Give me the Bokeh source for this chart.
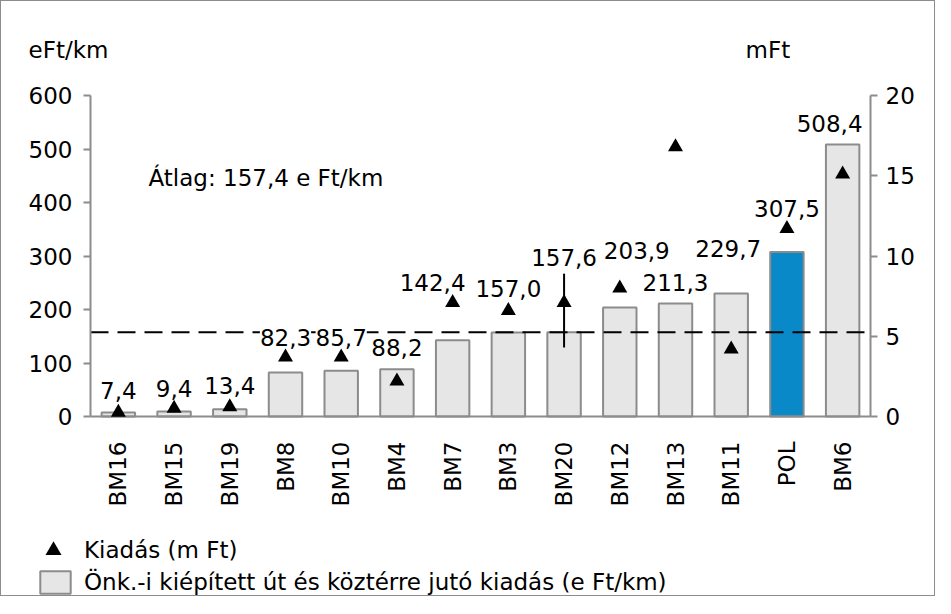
import math
from bokeh.plotting import figure
from bokeh.models import (ColumnDataSource, FactorRange, Range1d, LinearAxis, FixedTicker,
                          LabelSet, Label, Legend, LegendItem)
from bokeh.core.properties import value
from bokeh.embed import file_html
from bokeh.resources import INLINE

# ---------------- data ----------------
categories = ["BM16", "BM15", "BM19", "BM8", "BM10", "BM4", "BM7", "BM3",
              "BM20", "BM12", "BM13", "BM11", "POL", "BM6"]
cost_per_km = [7.4, 9.4, 13.4, 82.3, 85.7, 88.2, 142.4, 157.0,
               157.6, 203.9, 211.3, 229.7, 307.5, 508.4]          # e Ft/km (left axis)
spending_mft = [0.25, 0.5, 0.6, 3.7, 3.7, 2.2, 7.1, 6.6,
                7.1, 8.0, 16.8, 4.2, 11.7, 15.1]                    # m Ft (right axis)
average_cost = 157.4
range_cat = ["BM20"]
range_low = [4.3]
range_high = [8.9]
highlight = "POL"
left_ticks = [0, 100, 200, 300, 400, 500, 600]
right_ticks = [0, 5, 10, 15, 20]
left_unit = "eFt/km"
right_unit = "mFt"
legend_triangle = "Kiadás (m Ft)"
legend_bar = "Önk.-i kiépített út és köztérre jutó kiadás (e Ft/km)"

# label layout (pixels): lift above bar top, horizontal shift
label_lift_px = [22, 23, 24, 35, 33, 22, 58, 44, 75, 57, 21, 45, 43, 21]
label_shift_px = [0, 0, 0, 0, 0, 0, -20, 0, 0, 17, 0, -3, 0, -13]

# ---------------- layout / style ----------------
FONT = "DejaVu Sans"
FS = "23px"
GRAY = "#8c8c8c"
BAR_FILL = "#e6e6e6"
BLUE = "#0a89c8"
W, H = 935, 596            # canvas size
AX_L, AX_R = 89, 869       # pixel x of the left / right value axes
Y_BOT, Y_TOP = 415, 94     # pixel y of value 0 / top tick

n = len(categories)
slot = (AX_R - AX_L) / n
pad_px = W - AX_R
frame_left = AX_L - pad_px
lo_l, hi_l = left_ticks[0], left_ticks[-1]
lo_r, hi_r = right_ticks[0], right_ticks[-1]
k_l = (hi_l - lo_l) / (Y_BOT - Y_TOP)
k_r = (hi_r - lo_r) / (Y_BOT - Y_TOP)

colors = [BLUE if c == highlight else BAR_FILL for c in categories]
labels = [("%.1f" % v).replace(".", ",") for v in cost_per_km]

src = ColumnDataSource(dict(cat=categories, cost=cost_per_km, spend=spending_mft,
                            color=colors, label=labels, lift=label_lift_px,
                            shift=label_shift_px))
err_src = ColumnDataSource(dict(cat=range_cat, lo=range_low, hi=range_high))
avg_src = ColumnDataSource(dict(x0=[0], x1=[n], y=[average_cost]))

p = figure(x_range=FactorRange(factors=categories, range_padding=pad_px / slot,
                               range_padding_units="absolute"),
           y_range=Range1d(lo_l - (H - Y_BOT) * k_l, hi_l + Y_TOP * k_l),
           width=W, height=H, output_backend="svg", toolbar_location=None,
           min_border_left=frame_left, min_border_right=0, min_border_top=0,
           min_border_bottom=0)
p.extra_y_ranges = {"right": Range1d(lo_r - (H - Y_BOT) * k_r, hi_r + Y_TOP * k_r)}
p.styles = {"border": "1px solid " + GRAY}
p.xgrid.visible = False
p.ygrid.visible = False
p.outline_line_color = None

bars = p.vbar(x="cat", top="cost", width=0.6, source=src, fill_color="color",
              line_color=GRAY, line_width=2)

p.segment(x0="x0", y0="y", x1="x1", y1="y", source=avg_src, line_color="black",
          line_width=2, line_dash="18 9")

p.segment(x0="cat", y0="lo", x1="cat", y1="hi", source=err_src, y_range_name="right",
          line_color="black", line_width=2)

lab_kwargs = dict(x="cat", y="cost", text="label", source=src, x_offset="shift",
                  y_offset="lift", text_align="center", text_baseline="middle",
                  text_font=value(FONT), text_font_size=value(FS), text_color="black",
                  background_fill_color="white")
try:
    data_labels = LabelSet(padding=3, **lab_kwargs)
except Exception:
    data_labels = LabelSet(**lab_kwargs)
p.add_layout(data_labels)

tri = p.scatter(x="cat", y="spend", source=src, y_range_name="right", marker="triangle",
                size=15, fill_color="black", line_color=None, level="overlay")

# texts: unit titles and average note
for txt, xo, yo in [(left_unit, 28 - AX_L - 1, 46), (right_unit, 745 - AX_L - 1, 46),
                    ("Átlag: " + ("%.1f" % average_cost).replace(".", ",") + " e Ft/km",
                     148 - AX_L - 1, -82)]:
    p.add_layout(Label(x=0, y=hi_l, x_offset=xo, y_offset=yo, text=txt,
                       text_align="left", text_baseline="middle", text_font=FONT,
                       text_font_size=FS, text_color="black"))

# axes
ly = p.yaxis[0]
ly.ticker = FixedTicker(ticks=left_ticks)
ly.fixed_location = 0
ly.bounds = (lo_l, hi_l)
ry = LinearAxis(y_range_name="right", ticker=FixedTicker(ticks=right_ticks),
                fixed_location=n, bounds=(lo_r, hi_r))
p.add_layout(ry, "right")
for ax, so in [(ly, 11), (ry, 8)]:
    ax.axis_line_color = GRAY
    ax.axis_line_width = 2
    ax.major_tick_line_color = GRAY
    ax.major_tick_line_width = 2
    ax.major_tick_out = 7
    ax.major_tick_in = 0
    ax.minor_tick_line_color = None
    ax.major_label_text_font = FONT
    ax.major_label_text_font_size = FS
    ax.major_label_text_color = "black"
    ax.major_label_standoff = so

xa = p.xaxis[0]
xa.fixed_location = lo_l
xa.bounds = (0, n)
xa.axis_line_color = GRAY
xa.axis_line_width = 2
xa.major_tick_line_color = None
xa.major_tick_out = 0
xa.major_tick_in = 0
xa.major_label_orientation = math.pi / 2
xa.major_label_standoff = 25
xa.major_label_text_font = FONT
xa.major_label_text_font_size = FS
xa.major_label_text_color = "black"

# legends (location = bottom-left of legend box relative to frame bottom-left)
common = dict(orientation="vertical", padding=0, margin=0, border_line_color=None,
              background_fill_alpha=0, label_text_font=FONT, label_text_font_size=FS,
              label_text_color="black")
p.add_layout(Legend(items=[LegendItem(label=legend_triangle, renderers=[tri], index=0)],
                    location=(32 - frame_left, H - 529 - 40), glyph_width=40,
                    glyph_height=40, label_standoff=11, **common))
p.add_layout(Legend(items=[LegendItem(label=legend_bar, renderers=[bars], index=0)],
                    location=(35 - frame_left, 1), glyph_width=38, glyph_height=28,
                    label_standoff=10, **common))

open("out.html", "w").write(file_html(p, INLINE))
